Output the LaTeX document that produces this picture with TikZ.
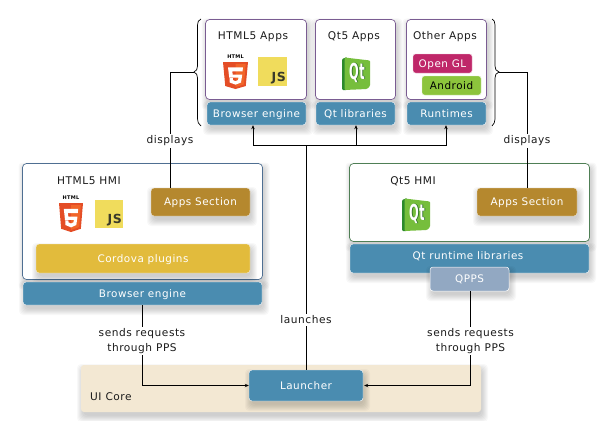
\documentclass[tikz,border=0pt]{standalone}
\usepackage{fontspec}
\setmainfont[LetterSpace=5]{DejaVu Sans}
\usetikzlibrary{arrows.meta,calc}
\definecolor{blueb}{HTML}{4A8CB0}
\definecolor{brownb}{HTML}{B5882E}
\definecolor{yellowb}{HTML}{E2BB3C}
\definecolor{qppsb}{HTML}{92A8C2}
\definecolor{coreb}{HTML}{F3E8D3}
\definecolor{purpleb}{HTML}{7A5C92}
\definecolor{navyb}{HTML}{4F6F92}
\definecolor{greenb}{HTML}{4F7F55}
\definecolor{jsy}{HTML}{F0DC5C}
\definecolor{jsd}{HTML}{3A3A2A}
\definecolor{qtg}{HTML}{76BE3C}
\definecolor{qtd}{HTML}{2C8A2C}
\definecolor{pinkb}{HTML}{BF2769}
\definecolor{limeb}{HTML}{8CC43C}
\definecolor{labelc}{HTML}{1A1A1A}
\newcommand{\boxfont}{\fontsize{10.4pt}{12pt}\selectfont}
\newcommand{\labfont}{\fontsize{10.6pt}{14.8pt}\selectfont}
\tikzset{
  x=1pt,y=-1pt,
  shadowlayer/.style={fill=black,fill opacity=#1,rounded corners=4pt},
  boxbase/.style={rectangle,rounded corners=3pt,inner sep=0pt,font=\boxfont,text height=9.5pt,text depth=2pt},
  bar/.style={boxbase,fill=blueb,draw=white,line width=.4pt,text=white},
  brownbar/.style={boxbase,fill=brownb,draw=white!80!brownb,line width=.4pt,text=white},
  yellowbar/.style={boxbase,fill=yellowb,draw=white!80!yellowb,line width=.4pt,text=white},
  qppsbar/.style={boxbase,fill=qppsb,draw=white,line width=.5pt,text=white},
  corebar/.style={rectangle,rounded corners=3pt,inner sep=0pt,fill=coreb},
  panelP/.style={rectangle,rounded corners=4pt,inner sep=0pt,fill=white,draw=purpleb,line width=.7pt},
  panelB/.style={rectangle,rounded corners=4pt,inner sep=0pt,fill=white,draw=navyb,line width=.7pt},
  panelG/.style={rectangle,rounded corners=4pt,inner sep=0pt,fill=white,draw=greenb,line width=.7pt},
  title/.style={font=\labfont,text=labelc,inner sep=0pt},
  lbl/.style={font=\labfont,text=labelc,fill=white,inner sep=1.5pt,align=center},
  conn/.style={draw=black,line width=.75pt},
  arrowc/.style={conn,-{Stealth[length=4pt,width=3.4pt]}},
  bracec/.style={draw=black,line width=.7pt},
  chip/.style={rectangle,rounded corners=2.5pt,inner sep=0pt,font=\boxfont,text height=9.5pt,text depth=2pt},
}
% name, x1, y1, x2, y2, style, text
\newcommand{\bx}[7]{%
  \pgfmathsetmacro{\cxx}{(#2+#4)/2}\pgfmathsetmacro{\cyy}{(#3+#5)/2}%
  \pgfmathsetmacro{\wdd}{#4-#2}\pgfmathsetmacro{\htt}{#5-#3}%
  \node[#6,minimum width=\wdd pt,minimum height=\htt pt] (#1) at (\cxx,\cyy) {#7};}
% the same box over a soft shadow
\newcommand{\sbx}[7]{%
  \foreach \dd in {5.5,4.5,3.5,2.5,1.5,.5,-1}{%
    \fill[shadowlayer=.026] ({#2-\dd+1.5},{#3-\dd+4.5}) rectangle ({#4+\dd+1.5},{#5+\dd+4.5});}%
  \bx{#1}{#2}{#3}{#4}{#5}{#6}{#7}}
% HTML5 icon: left x, top of shield y, width, height
\newcommand{\htmlicon}[5]{%
  \begin{scope}[shift={(#2,#3)},x=#4pt,y=-#5pt]
    \fill[color={rgb,255:red,228;green,77;blue,38}] (0,0)--(1,0)--(.91,.89)--(.5,1)--(.09,.89)--cycle;
    \fill[color={rgb,255:red,241;green,101;blue,41}] (.5,.07)--(.91,.07)--(.84,.83)--(.5,.93)--cycle;
    \fill[white] (.2,.2)--(.8,.2)--(.78,.35)--(.37,.35)--(.39,.47)--(.77,.47)--(.72,.76)--(.5,.84)--(.27,.76)--(.26,.6)--(.39,.6)--(.4,.67)--(.5,.71)--(.6,.67)--(.62,.58)--(.25,.58)--cycle;
  \end{scope}
  \node[inner sep=0pt,font=\fontsize{5pt}{5pt}\bfseries\selectfont,text=black] (#1) at ($(#2,#3)+(#4/2,-5)$) {HTML};}
% JS icon
\newcommand{\jsicon}[4]{%
  \bx{#1}{#2}{#3}{#2+#4}{#3+#4}{rectangle,fill=jsy,inner sep=0pt}{}
  \node[inner sep=0pt,anchor=south east,font=\fontsize{12.5pt}{13pt}\bfseries\selectfont,text=jsd] at ($(#2,#3)+(#4-1,#4-1.5)$) {JS};}
% Qt icon: left, top
\newcommand{\qticon}[3]{%
  \begin{scope}[shift={(#2,#3)}]
    \fill[qtd,rounded corners=1pt] (0,2)--(5,0)--(5,33)--(0,33)--cycle;
    \fill[qtg,rounded corners=1pt] (2.5,0.5)--(28,3.5)--(28,29)--(25,32)--(2.5,33)--cycle;
  \end{scope}
  \node[inner sep=0pt,font=\fontsize{22pt}{24pt}\bfseries\selectfont,text=qtd!70!black,xscale=.52] at ($(#2,#3)+(15.7,16)$) {Qt};
  \node[inner sep=0pt,font=\fontsize{22pt}{24pt}\bfseries\selectfont,text=white,xscale=.52] (#1) at ($(#2,#3)+(15,15.5)$) {Qt};}
\begin{document}
\begin{tikzpicture}
\useasboundingbox (0,0) rectangle (612,420);
\fill[white] (0,0) rectangle (612,420);

% UI core
\sbx{core}{81}{365}{481}{412}{corebar}{}
\node[font=\labfont,text=labelc,inner sep=0pt,anchor=west] (corelbl) at (90,397) {UI Core};
\sbx{launcher}{249}{370}{363}{401}{bar}{Launcher}

% top panels
\sbx{phtml}{205.5}{19.5}{306.5}{99.5}{panelP}{}
\sbx{pqt}{315.5}{19.5}{395.5}{99.5}{panelP}{}
\sbx{pother}{406.5}{19.5}{486.5}{99.5}{panelP}{}
\node[title] (thtml) at (253,36.5) {HTML5 Apps};
\node[title] (tqt) at (354,36.5) {Qt5 Apps};
\node[title] (tother) at (445,37) {Other Apps};
\sbx{bbrowser}{207}{102}{306}{125}{bar}{Browser engine}
\sbx{bqtlib}{316}{102}{395}{125}{bar}{Qt libraries}
\sbx{bruntime}{407}{102}{486}{125}{bar}{Runtimes}
\htmlicon{ih1}{223}{62}{25}{27}
\jsicon{ij1}{258}{57}{29}
\qticon{iq1}{342}{57}
\bx{opengl}{413}{54}{472}{73}{chip,fill=pinkb,draw=white!75!pinkb,line width=.4pt,text=white}{Open GL}
\bx{android}{422}{76}{481}{95}{chip,fill=limeb,draw=white!75!limeb,line width=.4pt,text=black}{Android}

% braces
\coordinate (lbracetip) at (194,72);
\coordinate (rbracetip) at (499,72);
\draw[bracec] (201,19) .. controls (198.5,20) and (197.5,22) .. (197.5,25) -- (197.5,66) .. controls (197.5,69) and (196.5,71) .. (194,72)
  .. controls (196.5,73) and (197.5,75) .. (197.5,78) -- (197.5,119) .. controls (197.5,122) and (198.5,124) .. (201,126);
\draw[bracec] (492,19) .. controls (494,20) and (495,22) .. (495,25) -- (495,66) .. controls (495,69) and (496,71) .. (499,72)
  .. controls (496,73) and (495,75) .. (495,78) -- (495,119) .. controls (495,122) and (494,124) .. (492,126);

% left HMI
\sbx{phmi}{22.5}{163.5}{262.5}{279.5}{panelB}{}
\node[title] (thmi) at (89,181) {HTML5 HMI};
\htmlicon{ih2}{59}{203}{24}{29}
\jsicon{ij2}{95}{200}{28}
\sbx{appsl}{151}{188}{250}{216}{brownbar}{Apps Section}
\sbx{cordova}{36}{244}{250}{273}{yellowbar}{Cordova plugins}
\sbx{bhmi}{23}{282}{262}{305}{bar}{Browser engine}

% right HMI
\sbx{qhmi}{349.5}{163.5}{589.5}{241.5}{panelG}{}
\node[title] (tqhmi) at (413,181) {Qt5 HMI};
\qticon{iq2}{402}{198}
\sbx{appsr}{477}{188}{577}{216}{brownbar}{Apps Section}
\sbx{qtrun}{350}{244}{589}{273}{bar}{}
\node[text=white,inner sep=0pt,font=\boxfont] (qtruntxt) at (468,256) {Qt runtime libraries};
\sbx{qpps}{430}{267}{509}{291}{qppsbar}{QPPS}

% connectors
\coordinate (junc) at (launcher.north |- 0,145);
\coordinate (ja) at (253,145);
\coordinate (jb) at (356,145);
\coordinate (jc) at (446,145);
\draw[conn] (launcher.north) -- node[lbl,pos=.222] (llaunch) {launches} (junc);
\draw[arrowc] (junc) -- (ja) -- (ja |- bbrowser.south);
\draw[arrowc] (junc) -- (jb) -- (jb |- bqtlib.south);
\draw[arrowc] (junc) -- (jc) -- (jc |- bruntime.south);

\coordinate (dl) at (170,72);
\coordinate (dr) at (527,72);
\draw[conn] (lbracetip) -- (dl) -- node[lbl,pos=.595] (ldisp) {displays} (dl |- appsl.north);
\draw[conn] (rbracetip) -- (dr) -- node[lbl,pos=.595] (rdisp) {displays} (dr |- appsr.north);

\coordinate (sl) at (142,385.5);
\coordinate (sr) at (470.5,385.5);
\draw[arrowc] (sl |- bhmi.south) -- node[lbl,pos=.45] (lsend) {sends requests\\through PPS} (sl) -- (launcher.west |- sl);
\draw[arrowc] (qpps.south -| sr) -- node[lbl,pos=.53] (rsend) {sends requests\\through PPS} (sr) -- ([xshift=1pt]launcher.east |- sr);
\end{tikzpicture}
\end{document}
